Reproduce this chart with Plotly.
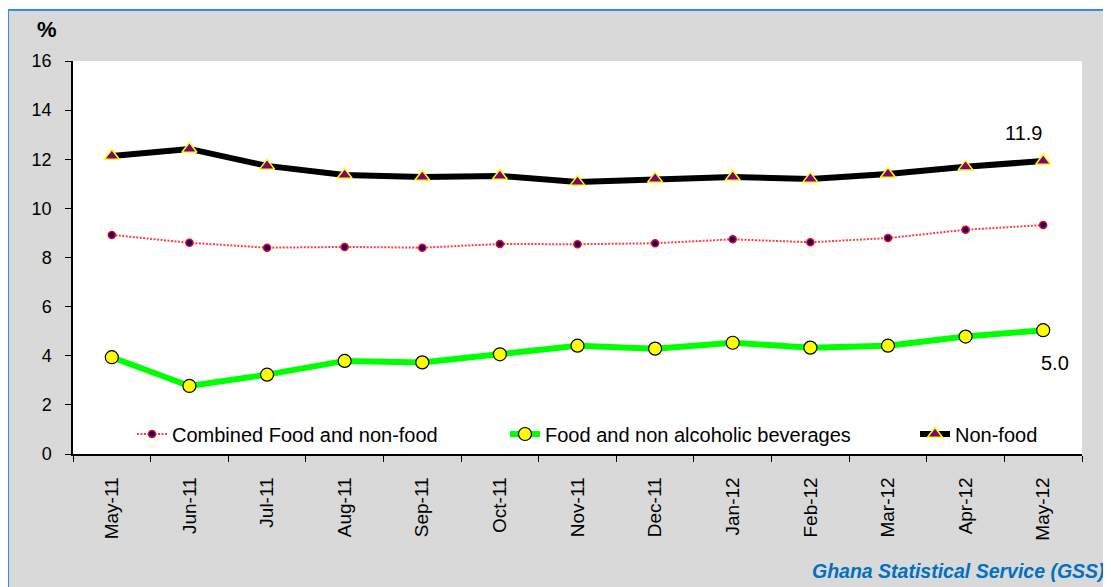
import plotly.graph_objects as go

months = ["May-11", "Jun-11", "Jul-11", "Aug-11", "Sep-11", "Oct-11", "Nov-11",
          "Dec-11", "Jan-12", "Feb-12", "Mar-12", "Apr-12", "May-12"]
combined = [8.92, 8.60, 8.40, 8.43, 8.40, 8.55, 8.54, 8.58, 8.74, 8.62, 8.79, 9.13, 9.32]
food = [3.94, 2.77, 3.23, 3.79, 3.73, 4.06, 4.41, 4.29, 4.53, 4.33, 4.41, 4.78, 5.04]
nonfood = [12.13, 12.42, 11.73, 11.36, 11.28, 11.32, 11.07, 11.20, 11.28, 11.20, 11.40, 11.69, 11.93]
y_ticks = [0, 2, 4, 6, 8, 10, 12, 14, 16]

FONT = "Arial, Liberation Sans, sans-serif"
OFF = 8  # browser body margin
W, H = 1111 - OFF, 587 - OFF
# plot area in screen pixels: x 73..1082, y 61..454
SL, ST, SR, SB = 73, 61, 1082, 454
L, T = SL - OFF, ST - OFF
R, B = W - (SR - OFF), H - (SB - OFF)
pw, ph = SR - SL, SB - ST

def px(x):  # screen x -> paper
    return (x - SL) / pw

def py(y):  # screen y -> paper
    return (SB - y) / ph

fig = go.Figure()
fig.add_trace(go.Scatter(
    x=months, y=combined, name="Combined Food and non-food", mode="lines+markers",
    line=dict(color="#ff4040", width=2, dash="2px,1.5px"),
    marker=dict(symbol="circle", size=7, color="#000080", line=dict(color="#ff0000", width=1.5)),
    legend="legend"))
fig.add_trace(go.Scatter(
    x=months, y=food, name="Food and non alcoholic beverages", mode="lines+markers",
    line=dict(color="#00ff00", width=6),
    marker=dict(symbol="circle", size=13, color="#ffff00", line=dict(color="#000000", width=1.2)),
    legend="legend2"))
fig.add_trace(go.Scatter(
    x=months, y=nonfood, name="Non-food", mode="lines+markers",
    line=dict(color="#000000", width=6),
    marker=dict(symbol="triangle-up", size=13, color="#800080", line=dict(color="#ffff00", width=1.5)),
    legend="legend3"))

# background frame
fig.add_shape(type="rect", xref="paper", yref="paper", layer="below",
              x0=px(8), x1=px(1111 + 20), y0=py(587 + 20), y1=py(10),
              fillcolor="#d9d9d9", line=dict(color="#3a86ff", width=2))
fig.add_shape(type="rect", xref="paper", yref="paper", layer="below",
              x0=0, x1=1, y0=0, y1=1, fillcolor="#ffffff", line=dict(width=0))

fig.add_annotation(text=f"{nonfood[-1]:.1f}", x=months[-1], y=nonfood[-1], xref="x", yref="y",
                   showarrow=False, xshift=-20, yshift=28,
                   font=dict(family=FONT, size=20, color="#000000"))
fig.add_annotation(text=f"{food[-1]:.1f}", x=months[-1], y=food[-1], xref="x", yref="y",
                   showarrow=False, xshift=12, yshift=-33,
                   font=dict(family=FONT, size=20, color="#000000"))
fig.add_annotation(text="<b>%</b>", x=px(47), y=py(30), xref="paper", yref="paper",
                   xanchor="center", yanchor="middle",
                   showarrow=False, font=dict(family=FONT, size=22, color="#000000"))
fig.add_annotation(text="<b><i>Ghana Statistical Service (GSS)</i></b>", x=px(810), y=py(571),
                   xref="paper", yref="paper", xanchor="left", yanchor="middle",
                   showarrow=False, font=dict(family=FONT, size=19.5, color="#0070c0"))

legend_common = dict(orientation="h", bgcolor="rgba(255,255,255,0)", borderwidth=0,
                     font=dict(family=FONT, size=20, color="#000000"),
                     yanchor="middle", y=py(434), xanchor="left")

fig.update_layout(
    width=W, height=H,
    margin=dict(l=L, r=R, t=T, b=B, autoexpand=False),
    paper_bgcolor="#ffffff", plot_bgcolor="#ffffff",
    font=dict(family=FONT, size=18, color="#000000"),
    showlegend=True,
    legend=dict(**legend_common, x=px(132)),
    legend2=dict(**legend_common, x=px(505)),
    legend3=dict(**legend_common, x=px(915)),
    xaxis=dict(type="category", range=[-0.5, 12.5], showgrid=False, zeroline=False,
               showline=True, linecolor="#000000", linewidth=1.5,
               ticks="outside", ticklen=6, tickcolor="#000000", tickson="boundaries",
               tickangle=-90, ticklabelstandoff=14,
               tickfont=dict(family=FONT, size=19, color="#000000")),
    yaxis=dict(range=[0, 16], tickvals=y_ticks, showgrid=False, zeroline=False,
               showline=True, linecolor="#000000", linewidth=1.5,
               ticks="outside", ticklen=6, tickcolor="#000000", ticklabelstandoff=10,
               tickfont=dict(family=FONT, size=18, color="#000000")),
)

fig.write_html("out.html")
